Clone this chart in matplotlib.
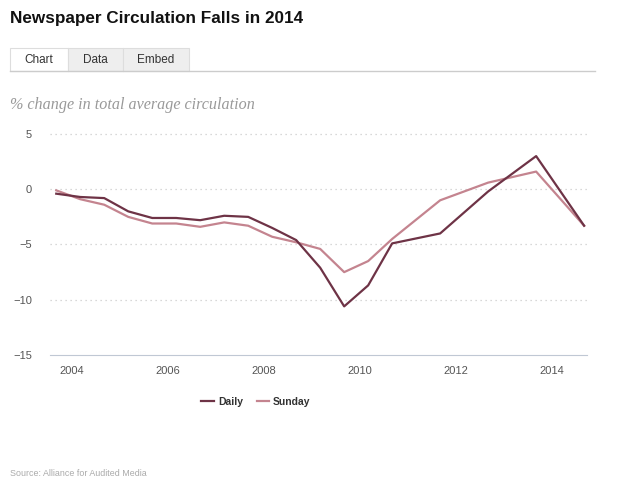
import matplotlib
matplotlib.use("Agg")
import matplotlib.pyplot as plt
from matplotlib.patches import Rectangle
from matplotlib.lines import Line2D

# semiannual readings (Sep / Mar) until 2010, then yearly (Sep)
periods = [2003.67, 2004.17, 2004.67, 2005.17, 2005.67, 2006.17, 2006.67,
           2007.17, 2007.67, 2008.17, 2008.67, 2009.17, 2009.67, 2010.17,
           2010.67, 2011.67, 2012.67, 2013.67, 2014.67]
daily = [-0.4, -0.7, -0.8, -2.0, -2.6, -2.6, -2.8, -2.4, -2.5, -3.5,
         -4.6, -7.1, -10.6, -8.7, -4.9, -4.0, -0.2, 3.0, -3.3]
sunday = [-0.1, -0.9, -1.4, -2.5, -3.1, -3.1, -3.4, -3.0, -3.3, -4.3,
          -4.8, -5.4, -7.5, -6.5, -4.5, -1.0, 0.6, 1.6, -3.3]
year_ticks = [2004, 2006, 2008, 2010, 2012, 2014]
y_ticks = [-15, -10, -5, 0, 5]

daily_col = "#6e3346"
sunday_col = "#c4848f"

W, H = 620, 486
fig = plt.figure(figsize=(W / 100, H / 100), dpi=100)


def fx(px):
    return px / W


def fy(py):
    return 1 - py / H


# title, tabs, subtitle
fig.text(fx(10), fy(19), "Newspaper Circulation Falls in 2014", fontsize=12.3,
         fontweight="bold", family="Liberation Sans", va="center", color="#111111")

tabs = [("Chart", 10, 68, "white"), ("Data", 68, 123, "#eeeeee"), ("Embed", 123, 189, "#eeeeee")]
for name, x0, x1, bg in tabs:
    fig.add_artist(Rectangle((fx(x0), fy(71)), fx(x1 - x0), (71 - 48) / H,
                             transform=fig.transFigure, facecolor=bg,
                             edgecolor="#dddddd", lw=0.8))
    fig.text(fx((x0 + x1) / 2), fy(60), name, fontsize=8.5, family="Liberation Sans",
             ha="center", va="center", color="#333333")
fig.add_artist(Line2D([fx(10), fx(595)], [fy(71.5), fy(71.5)], transform=fig.transFigure,
                      color="#cccccc", lw=1))

fig.text(fx(10), fy(105), "% change in total average circulation", fontsize=11.6,
         style="italic", family="Liberation Serif", va="center", color="#999999")

# chart
ax = fig.add_axes([fx(50), fy(355), fx(587 - 50), (355 - 134) / H])
l1, = ax.plot(periods, daily, color=daily_col, lw=1.6, label="Daily", zorder=3)
l2, = ax.plot(periods, sunday, color=sunday_col, lw=1.6, label="Sunday", zorder=2)

ax.set_xlim(2003.54, 2014.73)
ax.set_ylim(-15, 5)
ax.set_xticks(year_ticks)
ax.set_xticklabels([str(y) for y in year_ticks])
ax.set_yticks(y_ticks)
ax.set_yticklabels([str(v).replace("-", "\u2212") for v in y_ticks])
for v in y_ticks[1:]:
    ax.axhline(v, color="#cccccc", lw=0.9, ls=(0, (1, 3)), zorder=1, clip_on=False)

for s in ["top", "right", "left"]:
    ax.spines[s].set_visible(False)
ax.spines["bottom"].set_color("#c0c8d4")
ax.tick_params(length=0, labelsize=8, labelcolor="#555555")
ax.tick_params(axis="x", pad=8)
ax.tick_params(axis="y", pad=13)
for lab in ax.get_xticklabels() + ax.get_yticklabels():
    lab.set_family("Liberation Sans")

leg = fig.legend(handles=[l1, l2], loc="center", bbox_to_anchor=(fx(256), fy(402)),
                 ncol=2, frameon=False, handlelength=1.2, handletextpad=0.4,
                 columnspacing=1.3, prop={"family": "Liberation Sans", "weight": "bold", "size": 7.5})
for t in leg.get_texts():
    t.set_color("#333333")

fig.text(fx(10), fy(473), "Source: Alliance for Audited Media", fontsize=6.4,
         family="Liberation Sans", va="center", color="#aaaaaa")

fig.savefig("out.png", dpi=100)
